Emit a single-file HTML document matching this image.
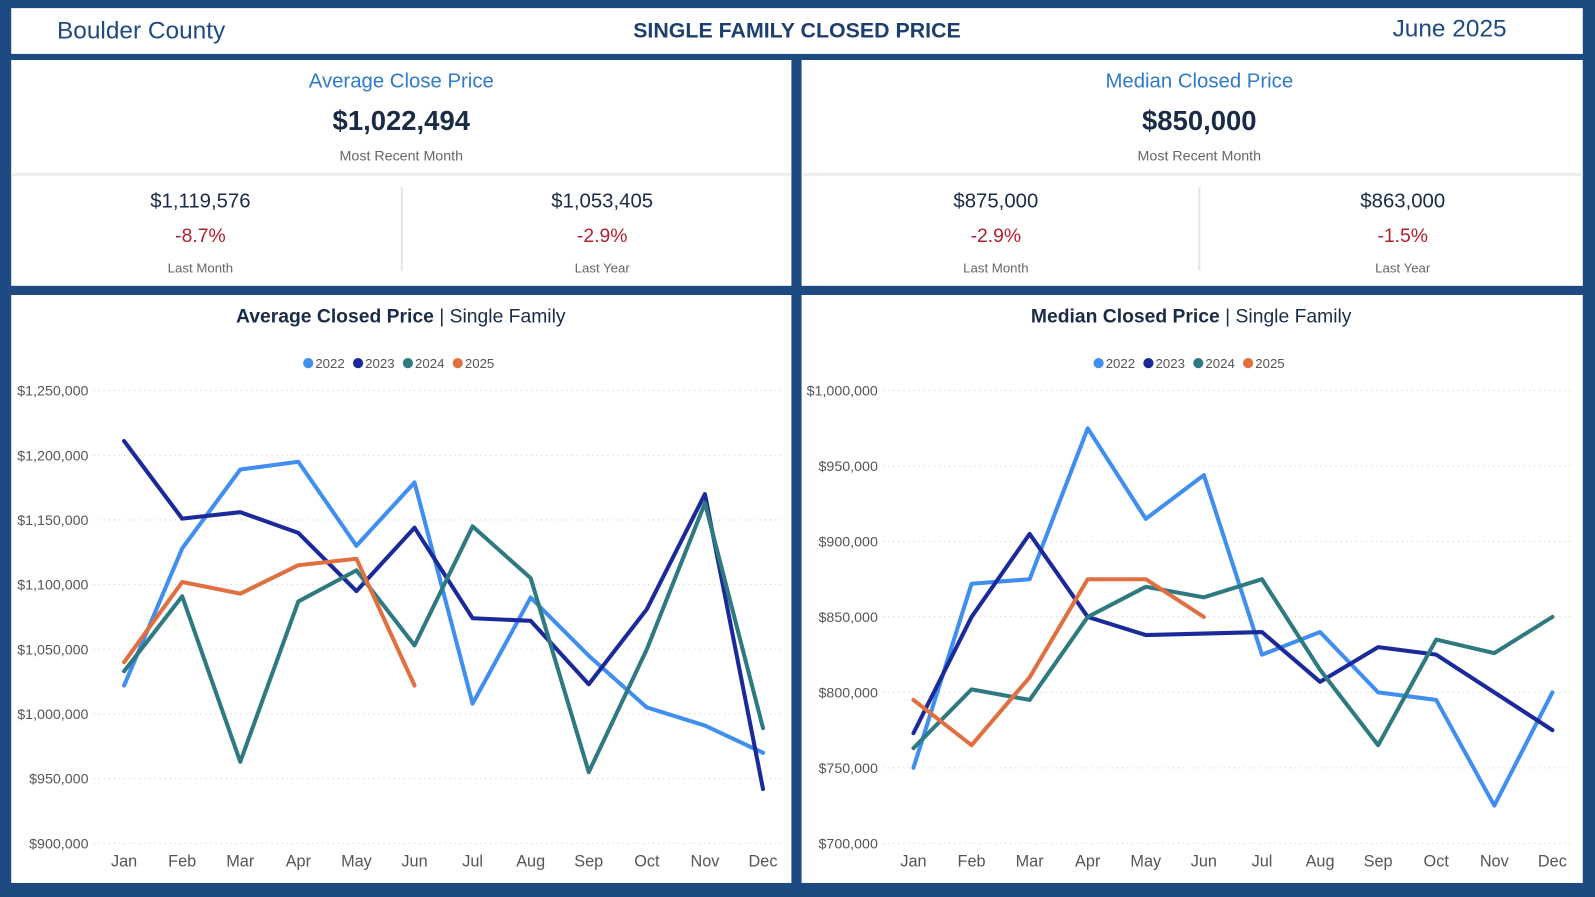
<!DOCTYPE html>
<html><head><meta charset="utf-8">
<style>
html,body{margin:0;width:1595px;height:897px;overflow:hidden;background:#1d4a80}
#wrap{position:absolute;left:0;top:0;width:1568px;height:882px;transform:scale(1.01722);transform-origin:0 0;font-family:"Liberation Sans",sans-serif;background:#1d4a80}
.box{position:absolute;background:#fff}
.t{position:absolute;text-align:center;white-space:nowrap}
</style></head><body>
<div id="wrap">
<div class="box" style="left:11px;top:8px;width:1545px;height:45px">
 <div class="t" style="left:45px;top:9px;font-size:24px;color:#1d4a80">Boulder County</div>
 <div class="t" style="left:0;width:1545px;top:11px;font-size:21px;font-weight:bold;color:#1d3f70">SINGLE FAMILY CLOSED PRICE</div>
 <div class="t" style="left:1358px;top:7px;font-size:24px;color:#1d4a80">June 2025</div>
</div>
<div class="box" style="left:11px;top:59px;width:767px;height:222px">
 <div class="t" style="left:0;width:767px;top:10px;font-size:20px;color:#2f7bc8">Average Close Price</div>
 <div class="t" style="left:0;width:767px;top:45px;font-size:27px;font-weight:bold;color:#1a2b45">$1,022,494</div>
 <div class="t" style="left:0;width:767px;top:86px;font-size:14px;color:#666">Most Recent Month</div>
 <div style="position:absolute;left:0;top:111px;width:767px;height:3px;background:#eee"></div>
 <div style="position:absolute;left:383px;top:125px;width:2px;height:82px;background:#e6e6e6"></div>
 <div class="t" style="left:0;width:372px;top:128px;font-size:20px;color:#1a2b45">$1,119,576</div>
 <div class="t" style="left:0;width:372px;top:163px;font-size:19px;color:#b02030">-8.7%</div>
 <div class="t" style="left:0;width:372px;top:197px;font-size:13px;color:#666">Last Month</div>
 <div class="t" style="left:395px;width:372px;top:128px;font-size:20px;color:#1a2b45">$1,053,405</div>
 <div class="t" style="left:395px;width:372px;top:163px;font-size:19px;color:#b02030">-2.9%</div>
 <div class="t" style="left:395px;width:372px;top:197px;font-size:13px;color:#666">Last Year</div>
</div>
<div class="box" style="left:788px;top:59px;width:768px;height:222px">
 <div class="t" style="left:0;width:782px;top:10px;font-size:20px;color:#2f7bc8">Median Closed Price</div>
 <div class="t" style="left:0;width:782px;top:45px;font-size:27px;font-weight:bold;color:#1a2b45">$850,000</div>
 <div class="t" style="left:0;width:782px;top:86px;font-size:14px;color:#666">Most Recent Month</div>
 <div style="position:absolute;left:0;top:111px;width:768px;height:3px;background:#eee"></div>
 <div style="position:absolute;left:390px;top:125px;width:2px;height:82px;background:#e6e6e6"></div>
 <div class="t" style="left:0;width:382px;top:128px;font-size:20px;color:#1a2b45">$875,000</div>
 <div class="t" style="left:0;width:382px;top:163px;font-size:19px;color:#b02030">-2.9%</div>
 <div class="t" style="left:0;width:382px;top:197px;font-size:13px;color:#666">Last Month</div>
 <div class="t" style="left:400px;width:382px;top:128px;font-size:20px;color:#1a2b45">$863,000</div>
 <div class="t" style="left:400px;width:382px;top:163px;font-size:19px;color:#b02030">-1.5%</div>
 <div class="t" style="left:400px;width:382px;top:197px;font-size:13px;color:#666">Last Year</div>
</div>
<div class="box" style="left:11px;top:290px;width:767px;height:578px"></div>
<div class="box" style="left:788px;top:290px;width:768px;height:578px"></div>
<svg id="svg" width="1568" height="882" style="position:absolute;left:0;top:0"></svg>
</div>
<script>
const months=["Jan","Feb","Mar","Apr","May","Jun","Jul","Aug","Sep","Oct","Nov","Dec"];
const years=["2022","2023","2024","2025"];
const colors=["#3f8ef0","#1b2a9a","#2e7a80","#e07040"];
const avg2022=[1022,1128,1189,1195,1130,1179,1008,1090,1045,1005,991,970];
const avg2023=[1211,1151,1156,1140,1095,1144,1074,1072,1023,1081,1170,942];
const avg2024=[1033,1091,963,1087,1111,1053,1145,1105,955,1050,1163,989];
const avg2025=[1040,1102,1093,1115,1120,1022];
const avgTicks=[900,950,1000,1050,1100,1150,1200,1250];
const med2022=[750,872,875,975,915,944,825,840,800,795,725,800];
const med2023=[773,850,905,850,838,839,840,807,830,825,800,775];
const med2024=[763,802,795,850,870,863,875,815,765,835,826,850];
const med2025=[795,765,810,875,875,850];
const medTicks=[700,750,800,850,900,950,1000];
const NS="http://www.w3.org/2000/svg";
const svg=document.getElementById('svg');
function mk(tag,a,parent){const e=document.createElementNS(NS,tag);for(const k in a)e.setAttribute(k,a[k]);(parent||svg).appendChild(e);return e;}
function fmt(v){return "$"+(v*1000).toLocaleString("en-US");}
function chart(cx,x0,tickLabelX,titleB,series,ticks,name){
  const g=mk('g',{});
  
  
  const lo=ticks[0],hi=ticks[ticks.length-1];
  const y=v=>829-(v-lo)/(hi-lo)*445;
  const x=i=>x0+i*57.1;
  const t=mk('text',{x:cx,y:317,'text-anchor':'middle','font-size':19,fill:'#1a2b45'},g);
  
  
  const b=mk('tspan',{'font-weight':'bold'},t);b.textContent=titleB;
  const r=mk('tspan',{},t);r.textContent=" | Single Family";
  let lx=cx-96;
  years.forEach((yr,i)=>{
    const c=mk('circle',{cx:lx+5,cy:357,r:5,fill:colors[i]},g);
    
    
    const tx=mk('text',{x:lx+12,y:362,'font-size':13,fill:'#555'},g);tx.textContent=yr;
    lx+=49;
  });
  ticks.forEach(v=>{
    mk('line',{x1:tickLabelX+5,x2:x(11)+20,y1:y(v),y2:y(v),stroke:'#ccc','stroke-dasharray':'1,4'},g);
    const tx=mk('text',{x:tickLabelX,y:y(v)+5,'text-anchor':'end','font-size':14,fill:'#555'},g);
    tx.textContent=fmt(v);
    
    
  });
  months.forEach((m,i)=>{
    const tx=mk('text',{x:x(i),y:852,'text-anchor':'middle','font-size':16,fill:'#555'},g);tx.textContent=m;
    
    
  });
  series.forEach((s,i)=>{
    const p=mk('polyline',{points:s.map((v,j)=>x(j)+','+y(v)).join(' '),fill:'none',stroke:colors[i],'stroke-width':4,'stroke-linejoin':'round','stroke-linecap':'round'},g);
    
    
  });
}
chart(394,122,87,"Average Closed Price",[avg2022,avg2023,avg2024,avg2025],avgTicks,"average-price-chart");
chart(1171,898,863,"Median Closed Price",[med2022,med2023,med2024,med2025],medTicks,"median-price-chart");
</script>
</body></html>
